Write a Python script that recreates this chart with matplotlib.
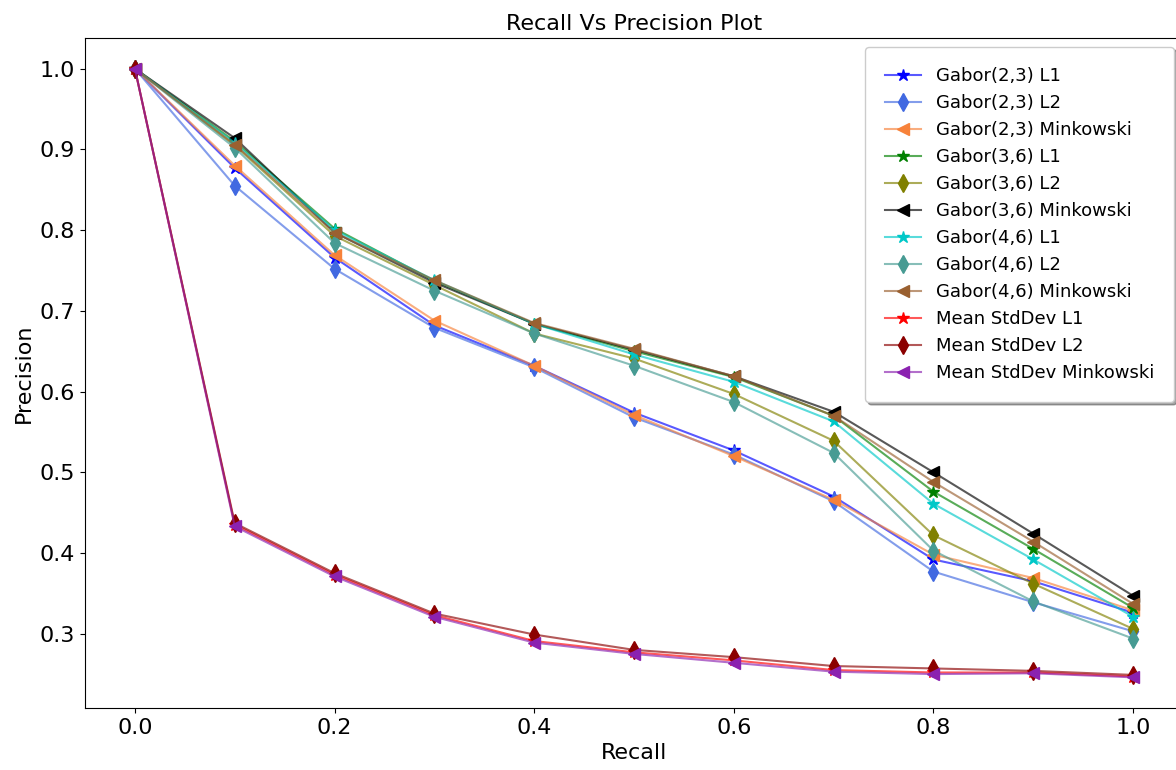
import matplotlib
matplotlib.use("Agg")
import matplotlib.pyplot as plt
from matplotlib.colors import to_rgba

recall = [0.0, 0.1, 0.2, 0.3, 0.4, 0.5, 0.6, 0.7, 0.8, 0.9, 1.0]

gabor23_l1 = [1.0, 0.877, 0.766, 0.682, 0.632, 0.574, 0.527, 0.470, 0.392, 0.365, 0.326]
gabor23_l2 = [1.0, 0.855, 0.752, 0.679, 0.630, 0.568, 0.522, 0.464, 0.377, 0.339, 0.303]
gabor23_mk = [1.0, 0.880, 0.769, 0.688, 0.632, 0.571, 0.520, 0.466, 0.398, 0.369, 0.329]
gabor36_l1 = [1.0, 0.910, 0.802, 0.737, 0.684, 0.650, 0.618, 0.570, 0.476, 0.405, 0.332]
gabor36_l2 = [1.0, 0.905, 0.793, 0.732, 0.672, 0.641, 0.597, 0.539, 0.422, 0.362, 0.306]
gabor36_mk = [1.0, 0.914, 0.797, 0.735, 0.684, 0.652, 0.619, 0.575, 0.500, 0.424, 0.347]
gabor46_l1 = [1.0, 0.908, 0.800, 0.738, 0.684, 0.646, 0.612, 0.563, 0.461, 0.392, 0.321]
gabor46_l2 = [1.0, 0.902, 0.784, 0.725, 0.672, 0.632, 0.587, 0.524, 0.403, 0.340, 0.294]
gabor46_mk = [1.0, 0.906, 0.797, 0.738, 0.685, 0.653, 0.619, 0.570, 0.488, 0.414, 0.337]
msd_l1 = [1.0, 0.435, 0.373, 0.323, 0.291, 0.277, 0.267, 0.255, 0.252, 0.252, 0.247]
msd_l2 = [1.0, 0.437, 0.375, 0.325, 0.299, 0.280, 0.271, 0.260, 0.257, 0.254, 0.249]
msd_mk = [1.0, 0.433, 0.371, 0.321, 0.289, 0.275, 0.264, 0.253, 0.250, 0.251, 0.246]

labels = ["Gabor(2,3) L1", "Gabor(2,3) L2", "Gabor(2,3) Minkowski",
          "Gabor(3,6) L1", "Gabor(3,6) L2", "Gabor(3,6) Minkowski",
          "Gabor(4,6) L1", "Gabor(4,6) L2", "Gabor(4,6) Minkowski",
          "Mean StdDev L1", "Mean StdDev L2", "Mean StdDev Minkowski"]
series = [gabor23_l1, gabor23_l2, gabor23_mk,
          gabor36_l1, gabor36_l2, gabor36_mk,
          gabor46_l1, gabor46_l2, gabor46_mk,
          msd_l1, msd_l2, msd_mk]
colors = ["blue", "royalblue", "#f7823a",
          "green", "olive", "black",
          "#00c8c8", "#479b93", "#9a6030",
          "red", "darkred", "#8b22b0"]
markers = ["*", "d", "<"] * 4

fig = plt.figure(figsize=(11.76, 7.70), dpi=100)
ax = fig.add_axes([85 / 1176, 62 / 770, 1098 / 1176, 670 / 770])

for ys, lab, col, mk in zip(series, labels, colors, markers):
    ax.plot(recall, ys, color=to_rgba(col, 0.65), lw=1.5, marker=mk,
            markersize=9, markerfacecolor=col, markeredgecolor=col,
            label=lab)

ax.set_xlim(-0.05, 1.05)
ax.set_ylim(0.208, 1.038)
ax.set_xticks([0.0, 0.2, 0.4, 0.6, 0.8, 1.0])
ax.set_yticks([0.3, 0.4, 0.5, 0.6, 0.7, 0.8, 0.9, 1.0])
ax.tick_params(labelsize=16)
ax.set_xlabel("Recall", fontsize=16)
ax.set_ylabel("Precision", fontsize=16)
ax.set_title("Recall Vs Precision Plot", fontsize=16)
ax.legend(loc="upper right", fontsize=13, shadow=True, borderpad=1.1,
          labelspacing=0.5)

fig.savefig("out.png", dpi=100)
